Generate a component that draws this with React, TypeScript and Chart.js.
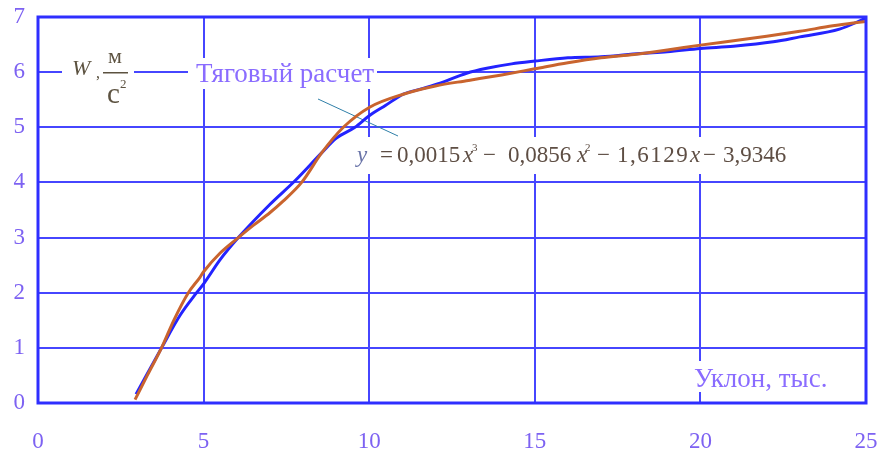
import React, { useEffect, useRef } from 'react';
import { Chart, registerables } from 'chart.js';
Chart.register(...registerables);

// Тяговый расчет (orange)
const tractionX = [2.93, 3.3, 3.73, 4.1, 4.54, 4.89, 5.0, 5.5, 6.05, 6.5, 7.0, 7.4, 7.96, 8.57, 9.22, 10.0, 11.03, 12.0, 13.0, 14.0, 15.0, 16.0, 17.0, 18.0, 19.0, 20.0, 21.0, 22.0, 23.0, 24.0, 25.0];
const tractionY = [0.06, 0.5, 1.0, 1.5, 2.0, 2.28, 2.38, 2.72, 3.0, 3.22, 3.45, 3.66, 4.0, 4.54, 5.0, 5.36, 5.6, 5.75, 5.85, 5.95, 6.06, 6.17, 6.26, 6.32, 6.4, 6.49, 6.57, 6.65, 6.74, 6.84, 6.92];
// Polynomial fit (blue)
const fitX = [2.96, 3.73, 4.3, 4.79, 5.0, 5.5, 6.05, 7.0, 7.76, 8.57, 9.0, 9.57, 10.0, 10.5, 11.03, 11.6, 12.14, 12.94, 13.55, 14.3, 15.0, 16.0, 17.0, 18.18, 19.0, 20.0, 21.0, 22.2, 23.0, 24.2, 25.0];
const fitY = [0.16, 1.0, 1.6, 2.0, 2.16, 2.6, 3.0, 3.6, 4.03, 4.54, 4.8, 5.0, 5.21, 5.4, 5.6, 5.7, 5.8, 5.98, 6.07, 6.15, 6.2, 6.26, 6.28, 6.34, 6.37, 6.43, 6.47, 6.55, 6.64, 6.78, 6.98];

const xTicks = [0, 5, 10, 15, 20, 25];
const yTicks = [0, 1, 2, 3, 4, 5, 6, 7];

const SERIF = '"Liberation Serif", "DejaVu Serif", serif';
const GRID = '#4646ff';
const LABEL = '#7d62f2';

const annotations = {
  id: 'annotations',
  beforeDatasetsDraw(chart: any) {
    const ctx = chart.ctx;
    ctx.save();
    // white backgrounds behind labels
    ctx.fillStyle = '#ffffff';
    ctx.fillRect(62, 46, 72, 62);
    ctx.fillRect(188, 58, 189, 31);
    ctx.fillRect(352, 137, 440, 37);
    ctx.fillRect(690, 361, 144, 31);

    ctx.textBaseline = 'alphabetic';
    ctx.textAlign = 'left';
    // W, м/с²
    ctx.fillStyle = '#5c5240';
    ctx.font = `italic 22px ${SERIF}`;
    ctx.fillText('W', 72, 75);
    ctx.font = `16px ${SERIF}`;
    ctx.fillText(',', 96, 78);
    ctx.font = `22px ${SERIF}`;
    ctx.fillText('м', 108, 63);
    ctx.fillRect(103, 72, 25, 1.5);
    ctx.font = `29px ${SERIF}`;
    ctx.fillText('с', 107, 103);
    ctx.font = `13px ${SERIF}`;
    ctx.fillText('2', 120, 88);

    // Series label
    ctx.fillStyle = '#8a6cff';
    ctx.font = `27px ${SERIF}`;
    ctx.fillText('Тяговый расчет', 196, 82);
    // Axis label
    ctx.fillText('Уклон, тыс.', 694, 387);

    // leader line
    ctx.strokeStyle = '#2f7fa8';
    ctx.lineWidth = 1;
    ctx.beginPath();
    ctx.moveTo(318, 99);
    ctx.lineTo(398, 136);
    ctx.stroke();

    // formula
    const base = 162;
    const parts: [string, number, string, string][] = [
      ['y', 357, 'italic', '#6a74a8'],
      ['=', 380, '', '#5e4e44'],
      ['0,0015', 397, '', '#5e4e44'],
      ['x', 463, 'italic', '#5e4e44'],
      ['−', 483, '', '#5e4e44'],
      ['0,0856', 508, '', '#5e4e44'],
      ['x', 577, 'italic', '#5e4e44'],
      ['−', 597, '', '#5e4e44'],
      ['1,6129', 617, '', '#5e4e44'],
      ['x', 690, 'italic', '#5e4e44'],
      ['−', 703, '', '#5e4e44'],
      ['3,9346', 723, '', '#5e4e44'],
    ];
    for (const [t, x, st, c] of parts) {
      ctx.fillStyle = c;
      ctx.font = `${st} 23px ${SERIF}`.trim();
      if (t === '1,6129') {
        (ctx as any).letterSpacing = '1.5px';
      } else {
        (ctx as any).letterSpacing = '0px';
      }
      ctx.fillText(t, x, base);
    }
    (ctx as any).letterSpacing = '0px';
    ctx.fillStyle = '#5e4e44';
    ctx.font = `11px ${SERIF}`;
    ctx.fillText('3', 472, base - 11);
    ctx.fillText('2', 585, base - 11);
    ctx.restore();
  },
  afterDatasetsDraw(chart: any) {
    const { ctx, chartArea } = chart;
    ctx.save();
    ctx.strokeStyle = '#2e2eff';
    ctx.lineWidth = 3;
    ctx.strokeRect(chartArea.left, chartArea.top, chartArea.right - chartArea.left, chartArea.bottom - chartArea.top);
    ctx.restore();
  },
};

export default function App() {
  const ref = useRef<HTMLCanvasElement | null>(null);
  useEffect(() => {
    if (!ref.current) return;
    const chart = new Chart(ref.current, {
      type: 'scatter',
      data: {
        datasets: [
          {
            label: 'Тяговый расчет',
            data: tractionX.map((x, i) => ({ x, y: tractionY[i] })),
            showLine: true,
            borderColor: '#c9642e',
            borderWidth: 3,
            pointRadius: 0,
            cubicInterpolationMode: 'monotone',
          },
          {
            label: 'Аппроксимация',
            data: fitX.map((x, i) => ({ x, y: fitY[i] })),
            showLine: true,
            borderColor: '#2323ff',
            borderWidth: 3,
            pointRadius: 0,
            cubicInterpolationMode: 'monotone',
          },
        ],
      },
      plugins: [annotations],
      options: {
        animation: false,
        responsive: false,
        layout: { padding: { top: 17, right: 11, left: 0, bottom: 0 } },
        plugins: { legend: { display: false }, tooltip: { enabled: false } },
        scales: {
          x: {
            type: 'linear',
            min: 0,
            max: 25,
            afterBuildTicks: (s: any) => { s.ticks = xTicks.map((v) => ({ value: v })); },
            afterFit: (s: any) => { s.height = 50; s.paddingLeft = 0; s.paddingRight = 0; },
            grid: { color: GRID, lineWidth: 2, drawTicks: false },
            border: { display: false },
            ticks: { padding: 25, color: LABEL, font: { family: SERIF, size: 23 } },
          },
          y: {
            type: 'linear',
            min: 0,
            max: 7,
            afterBuildTicks: (s: any) => { s.ticks = yTicks.map((v) => ({ value: v })); },
            afterFit: (s: any) => { s.width = 38; s.paddingTop = 0; s.paddingBottom = 0; },
            grid: { color: GRID, lineWidth: 2, drawTicks: false },
            border: { display: false },
            ticks: { padding: 13, color: LABEL, font: { family: SERIF, size: 23 } },
          },
        },
      },
    } as any);
    return () => chart.destroy();
  }, []);
  return (
    <div style={{ position: 'fixed', left: 0, top: 0, width: 877, height: 453, background: '#fff' }}>
      <canvas ref={ref} width={877} height={453} style={{ width: 877, height: 453 }} />
    </div>
  );
}
